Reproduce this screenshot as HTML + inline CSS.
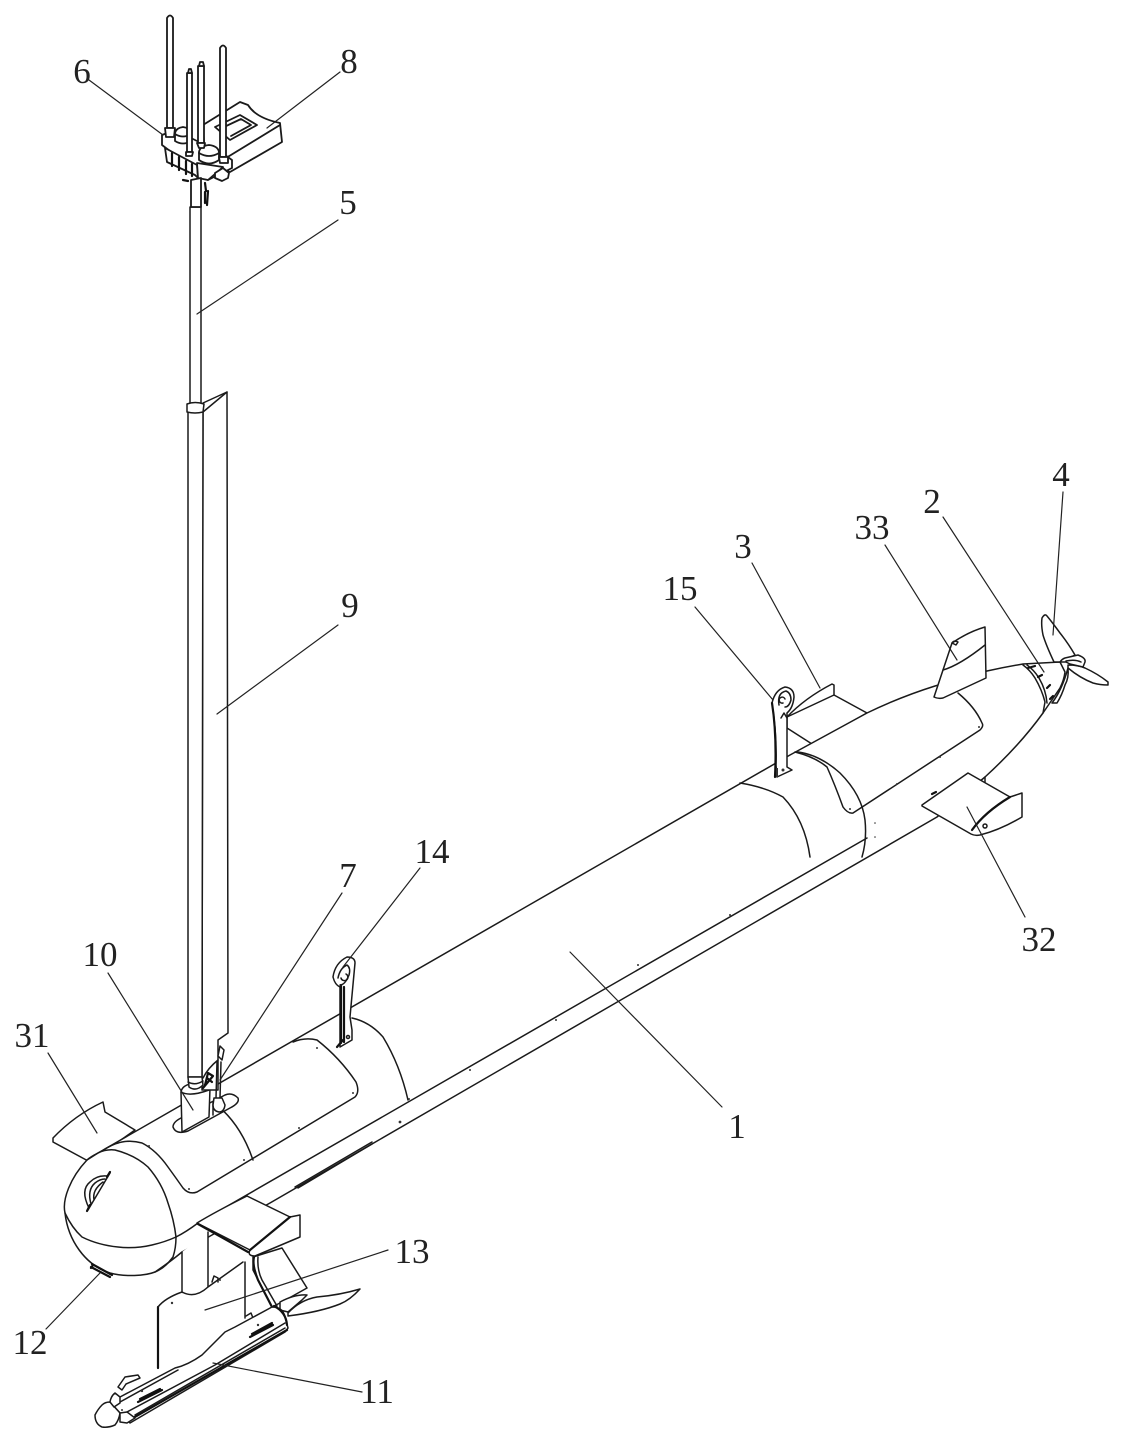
<!DOCTYPE html>
<html><head><meta charset="utf-8"><style>
html,body{margin:0;padding:0;background:#fff}
svg{display:block}
text{font-family:"Liberation Serif",serif;font-size:35px;fill:#222;text-anchor:middle}
.l{fill:#fff;stroke:#1a1a1a;stroke-width:1.5;stroke-linejoin:round;stroke-linecap:round}
.n{fill:none;stroke:#1a1a1a;stroke-width:1.5;stroke-linejoin:round;stroke-linecap:round}
.t{fill:none;stroke:#111;stroke-width:2.2;stroke-linecap:round;stroke-linejoin:round}
.h{fill:none;stroke:#222;stroke-width:1.2;stroke-linecap:round}
.d{fill:#333}
.a .l,.a .n{stroke-width:1.8}
</style></head><body>
<svg width="1122" height="1438" viewBox="0 0 1122 1438" xmlns="http://www.w3.org/2000/svg">
<!-- left fin 31 -->
<path class="l" d="M53,1138 Q75,1115 103,1102 L105,1112 L135,1130 L90,1162 L53,1142 Z"/>
<!-- fin 3 -->
<path class="l" d="M787,717 Q805,698 832,684 L834,685 L834,695 L867,713 L812,744 L787,728 Z"/>
<path class="n" d="M787,717 L834,695"/>
<!-- body -->
<path class="l" d="M98,1153 L790,755 L867,713 Q900,697 935,686 L987,671 Q1005,667 1023,664 L1060,662 L1065,672 Q1064,680 1060,688 L1043,713 Q1020,745 985,777 L937,817 L270,1203 L212,1235 L182,1252 Q170,1262 155,1272 C145,1276 125,1277 110,1273 C85,1265 68,1240 65,1213 C62,1200 70,1178 87,1160 Z"/>
<path class="n" d="M176,1237 Q186,1232 198,1223 L867,838"/>
<path class="n" d="M102,1151 Q112,1144 122,1142 Q132,1140 142,1143 Q156,1150 168,1167 Q176,1178 183,1188 Q189,1195 197,1192 L355,1097 Q360,1092 356,1082 Q340,1058 317,1040 Q305,1037 293,1042"/>
<path class="n" d="M87,1160 Q90,1157 98,1153 Q106,1149 115,1150 Q135,1155 148,1167 Q162,1183 168,1203 Q174,1220 176,1237 Q176,1248 173,1257 Q165,1268 155,1272"/>
<path class="n" d="M65,1213 Q72,1228 82,1237 Q98,1245 118,1247 Q135,1249 152,1245 Q165,1242 176,1237"/>
<path class="n" d="M213,1102 Q240,1122 253,1160"/>
<path class="n" d="M352,1018 Q370,1022 383,1037 Q400,1065 408,1100"/>
<path class="n" d="M740,783 Q765,787 783,797 Q805,820 810,857"/>
<path class="n" d="M798,752 Q820,755 840,773 Q862,795 865,820 Q867,840 862,857"/>
<path class="n" d="M795,752 Q815,757 827,767 Q835,785 843,807 Q848,814 853,813 L980,730 Q984,726 982,723 Q975,707 958,693"/>
<path class="n" d="M295,1187 L372,1142 M298,1188 L372,1144"/>
<!-- nose handle -->
<path class="n" d="M88,1210 L110,1173 M89,1208 Q80,1190 90,1182 Q97,1175 107,1176 M91,1204 Q87,1190 95,1183 Q100,1179 105,1179 M94,1200 Q92,1190 103,1182"/>
<path class="t" d="M87,1211 L90,1205 M107,1177 L110,1172"/>
<!-- sensor 12 -->
<path class="t" d="M92,1264 L112,1275 M91,1267 L110,1277 M93,1265 L91,1268"/>
<!-- lower mast -->
<path fill="#fff" d="M182,1252 L182,1293 Q195,1298 208,1287 L208,1232 Z"/>
<path class="n" d="M182,1252 L182,1293 M208,1232 L208,1287"/>
<!-- fin 13 -->
<path fill="#fff" d="M158,1368 L158,1307 Q165,1298 180,1291 L182,1293 Q195,1299 208,1287 L243,1262 L245,1262 L246,1320 L200,1368 Z"/>
<path class="t" d="M158,1307 L158,1368"/>
<path class="n" d="M245,1262 L245,1318"/>
<path class="n" d="M158,1307 Q165,1298 182,1292 Q195,1299 208,1287 L243,1262 M246,1316 L251,1313 L253,1318"/>
<path class="n" d="M212,1282 L214,1276 L218,1278 L218,1282"/>
<!-- bracket -->
<path class="l" d="M253,1257 L253,1270 L272,1307 L282,1302 L307,1288 L282,1248 Z"/>
<path class="t" d="M254,1257 Q252,1265 258,1280 L272,1307"/>
<path class="n" d="M258,1257 Q257,1270 262,1280 L277,1306"/>
<!-- lower wing -->
<path class="l" d="M197,1223 Q215,1212 247,1196 L290,1217 L300,1215 L300,1237 L255,1256 Q247,1256 250,1250 L197,1223 Z"/>
<path class="t" d="M250,1250 Q262,1240 290,1217 M198,1224 L248,1252"/>
<!-- small blade -->
<path class="l" d="M288,1313 Q300,1300 317,1297 Q340,1295 360,1289 Q350,1300 340,1304 Q320,1312 288,1316 Z"/>
<path class="l" d="M280,1302 Q295,1294 307,1295 L302,1300 L288,1312 L280,1310 Z"/>
<!-- towfish -->
<path class="l" d="M120,1397 L175,1368 Q188,1365 202,1355 Q215,1342 225,1332 L235,1327 L272,1307 Q283,1307 285,1317 L288,1328 L285,1332 L130,1423 L120,1413 L110,1402 Z"/>
<path class="n" d="M120,1402 L178,1370 M127,1412 L215,1365 L285,1323"/>
<path class="n" d="M135,1415 L285,1328"/>
<path class="t" d="M133,1418 L287,1330 M274,1306 Q286,1312 287,1325"/>
<path class="l" d="M95,1415 Q98,1409 102,1405 Q105,1402 110,1402 L120,1413 Q119,1420 115,1425 Q108,1428 102,1427 Q95,1424 95,1415 Z"/>
<path class="l" d="M110,1402 Q111,1396 115,1393 L120,1397 L120,1403 L114,1407 Z"/>
<path class="l" d="M120,1413 L127,1412 L135,1418 L127,1423 L120,1422 Q120,1418 120,1413 Z"/>
<path class="n" d="M118,1387 L125,1377 L138,1375 L140,1378 L126,1384 L122,1390 Z"/>
<path class="t" d="M138,1402 L162,1390 M140,1399 L160,1389 M250,1337 L273,1325 M252,1334 L272,1323"/>
<circle class="d" cx="142" cy="1391" r="1.2"/><circle class="d" cx="258" cy="1325" r="1.2"/><circle class="d" cx="172" cy="1303" r="1.2"/><circle class="d" cx="220" cy="1280" r="1"/><circle class="d" cx="122" cy="1410" r="1"/>
<!-- tail fin 33 -->
<path class="l" d="M952,643 Q968,632 985,627 L986,678 L943,698 Q938,699 934,697 Z"/>
<path class="n" d="M943,670 Q960,665 985,645"/>
<path class="n" d="M952,643 Q954,640 958,642 L956,645 Z"/>
<!-- wing 32 -->
<path class="l" d="M922,805 L968,773 L1010,797 L1022,793 L1022,817 Q1000,830 980,835 Q975,836 971,834 L922,806 Z"/>
<path class="t" d="M972,830 Q985,812 1010,797"/>
<circle class="n" cx="985" cy="826" r="2"/>
<path class="t" d="M932,794 L936,792"/>
<path class="n" d="M985,777 L985,782"/>
<!-- tail band and windows -->
<path class="n" d="M1023,665 Q1030,670 1035,678 Q1042,690 1045,702 L1043,713"/>
<path class="n" d="M1027,665 Q1034,670 1039,678 Q1046,690 1047,703"/>
<path class="t" d="M1028,668 L1035,666 M1038,677 L1042,675 M1047,688 L1050,685 M1050,699 L1053,696"/>
<!-- propeller -->
<path class="l" d="M1042,618 Q1045,613 1047,616 Q1052,622 1060,633 Q1068,643 1075,655 L1060,662 L1054,662 Q1046,645 1043,635 Q1041,625 1042,618 Z"/>
<path class="l" d="M1068,665 Q1078,665 1085,668 Q1098,674 1108,682 L1108,685 Q1100,685 1093,683 Q1080,678 1068,668 Z"/>
<path class="l" d="M1068,668 Q1069,678 1065,685 Q1062,695 1057,703 L1052,703 Q1062,690 1068,668 Z"/>
<path class="l" d="M1060,662 Q1062,659 1065,658 L1078,655 Q1086,658 1085,662 L1083,667 L1070,664 L1066,662 Z"/>
<path class="n" d="M1066,661 Q1075,659 1081,662"/>
<!-- dots -->
<circle class="d" cx="149" cy="1146" r="1"/><circle class="d" cx="189" cy="1189" r="1"/><circle class="d" cx="244" cy="1160" r="1"/><circle class="d" cx="299" cy="1128" r="1"/><circle class="d" cx="353" cy="1093" r="1"/><circle class="d" cx="317" cy="1048" r="1"/><circle class="d" cx="400" cy="1122" r="1.4"/><circle class="d" cx="409" cy="1099" r="1"/><circle class="d" cx="470" cy="1070" r="1"/><circle class="d" cx="556" cy="1020" r="1"/><circle class="d" cx="638" cy="965" r="1"/><circle class="d" cx="730" cy="915" r="1"/><circle class="d" cx="850" cy="809" r="1"/><circle class="d" cx="897" cy="784" r="1"/><circle class="d" cx="940" cy="757" r="1"/><circle class="d" cx="979" cy="727" r="1"/><circle class="d" cx="875" cy="823" r=".8"/><circle class="d" cx="875" cy="837" r=".8"/>
<!-- slot & base 10 -->
<path class="l" d="M173,1127 Q173,1122 181,1118 L225,1095 Q232,1092 238,1098 Q240,1103 230,1108 L188,1131 Q176,1135 173,1127 Z"/>
<path class="l" d="M181,1092 L182,1132 L209,1117 L210,1088 Q200,1081 190,1084 Q182,1086 181,1092 Z"/>
<path class="n" d="M181,1092 Q190,1097 209,1090"/>
<path class="n" d="M213,1102 L213,1115"/>
<!-- mast & fin 9 -->
<path class="l" d="M203,412 L227,392 L228,1033 L218,1040 L218,1090 L202,1090 Z"/>
<path class="n" d="M203,403 L227,392"/>
<path class="l" d="M188,412 L203,412 L202,1077 L188,1077 Z"/>
<path class="l" d="M190,207 L201,207 L201,404 L190,404 Z"/>
<path class="l" d="M187,404 Q195,401 204,404 L203,412 Q195,414 187,412 Z"/>
<path class="l" d="M188,1077 L202,1077 L203,1085 Q196,1092 189,1087 Z"/>
<path class="n" d="M188,1082 Q195,1086 203,1081"/>
<path class="t" d="M203,1088 L213,1076 L208,1073 L205,1085 M207,1078 L212,1082"/>
<path class="n" d="M203,1078 Q208,1068 218,1060"/>
<!-- antenna 7 -->
<path class="n" d="M217,1062 L216,1098 M221,1062 L220,1098"/>
<path class="l" d="M220,1046 L224,1050 L222,1060 L218,1056 Z"/>
<path class="l" d="M214,1098 L222,1098 L225,1105 Q224,1112 219,1112 Q213,1111 213,1105 Z"/>
<!-- hook 14 -->
<path class="l" d="M347,957 Q355,957 355,963 L350,1017 L352,1030 L352,1040 L340,1047 L340,987 Q335,985 333,977 Q335,963 347,957 Z"/>
<path class="t" d="M341,985 L341,1043 M344,987 L344,1042"/>
<path class="n" d="M338,978 Q340,968 347,965 Q351,968 349,975 Q345,985 340,985"/>
<path class="n" d="M341,978 A3.5,3.5 0 1 0 346,974"/>
<path class="t" d="M337,1047 L343,1040"/>
<circle class="n" cx="348" cy="1037" r="1.5"/>
<!-- hook 15 -->
<path class="l" d="M772,703 Q775,690 785,687 Q794,688 794,697 Q793,708 787,713 L787,767 L792,770 L777,777 L776,765 Q777,735 772,703 Z"/>
<path class="t" d="M772,703 Q777,735 775,777"/>
<path class="n" d="M779,705 Q777,693 786,691 Q791,693 791,700 Q789,707 785,707 M781,718 L784,713 L787,718 M785,699 A3,3 0 1 0 783,703"/>
<circle class="d" cx="783" cy="770" r="1.5"/>
<path class="d" d="M776,768 L778,768 L778,777 L776,777 Z"/>
<!-- top assembly -->
<g class="a">
<path class="l" d="M203,125 L240,102 L248,105 Q256,118 280,123 L282,142 L230,172 L205,160 Z"/>
<path class="n" d="M215,127 L240,115 L257,125 L230,140 Z M222,128 L241,119 L251,125 L231,136 M280,125 L226,158"/>
<path class="l" d="M162,135 L175,130 L225,155 L232,160 L232,168 L208,180 L162,145 Z"/>
<path class="l" d="M165,148 L197,165 L198,178 L195,175 L167,162 Z"/>
<path class="t" d="M172,153 L172,166 M179,157 L179,170 M186,161 L186,174 M192,164 L192,176"/>
<path class="l" d="M197,163 L223,167 L208,180 L198,178 Z"/>
<path class="l" d="M215,173 L223,168 L229,173 L228,178 L222,181 L215,178 Z"/>
<path class="l" d="M175,133 Q176,128 183,127 Q190,128 191,133 L191,141 Q183,146 175,141 Z"/>
<path class="n" d="M175,134 Q183,139 191,134"/>
<path class="l" d="M199,152 Q200,146 209,145 Q218,146 219,152 L219,160 Q209,167 199,160 Z"/>
<path class="n" d="M199,153 Q209,159 219,153"/>
<path class="l" d="M191,180 L201,178 L201,207 L191,207 Z"/>
<path class="t" d="M205,183 L206,191 M208,191 L207,205 M205,192 L205,203"/>
<path class="t" d="M183,180 L188,181"/>
<path class="l" d="M167,18 Q170,13 173,18 L173,128 L167,128 Z"/>
<path class="l" d="M165,128 L175,128 L174,137 L166,137 Z"/>
<path class="l" d="M187,73 L192,73 L192,152 L187,152 Z"/>
<path class="l" d="M188,73 L189,69 L191,69 L192,73 Z M186,152 L193,152 L192,156 L186,156 Z"/>
<path class="l" d="M198,66 L204,66 L204,143 L198,143 Z"/>
<path class="l" d="M199,66 L200,62 L203,62 L204,66 Z M197,143 L205,143 L204,148 L199,148 Z"/>
<path class="l" d="M220,48 Q223,43 226,48 L226,157 L220,157 Z"/>
<path class="l" d="M219,157 L228,157 L228,163 L220,163 Z"/>
</g>
<!-- leaders -->
<g class="h">
<line x1="89" y1="80" x2="163" y2="135"/><line x1="340" y1="72" x2="267" y2="128"/><line x1="338" y1="220" x2="197" y2="314"/><line x1="338" y1="625" x2="217" y2="714"/><line x1="342" y1="893" x2="220" y2="1080"/><line x1="420" y1="868" x2="343" y2="967"/><line x1="108" y1="973" x2="193" y2="1110"/><line x1="48" y1="1053" x2="97" y2="1133"/><line x1="46" y1="1329" x2="100" y2="1273"/><line x1="388" y1="1250" x2="205" y2="1310"/><line x1="362" y1="1392" x2="213" y2="1363"/><line x1="722" y1="1107" x2="570" y2="952"/><line x1="695" y1="607" x2="773" y2="700"/><line x1="752" y1="563" x2="820" y2="688"/><line x1="885" y1="545" x2="957" y2="660"/><line x1="943" y1="517" x2="1044" y2="672"/><line x1="1063" y1="492" x2="1053" y2="635"/><line x1="1025" y1="917" x2="967" y2="807"/>
</g>
<text x="82" y="83">6</text><text x="349" y="73">8</text><text x="348" y="214">5</text><text x="350" y="617">9</text><text x="348" y="887">7</text><text x="432" y="863">14</text><text x="100" y="966">10</text><text x="32" y="1047">31</text><text x="30" y="1354">12</text><text x="412" y="1263">13</text><text x="377" y="1403">11</text><text x="737" y="1138">1</text><text x="680" y="600">15</text><text x="743" y="558">3</text><text x="872" y="539">33</text><text x="932" y="513">2</text><text x="1061" y="486">4</text><text x="1039" y="951">32</text>
</svg>
</body></html>
